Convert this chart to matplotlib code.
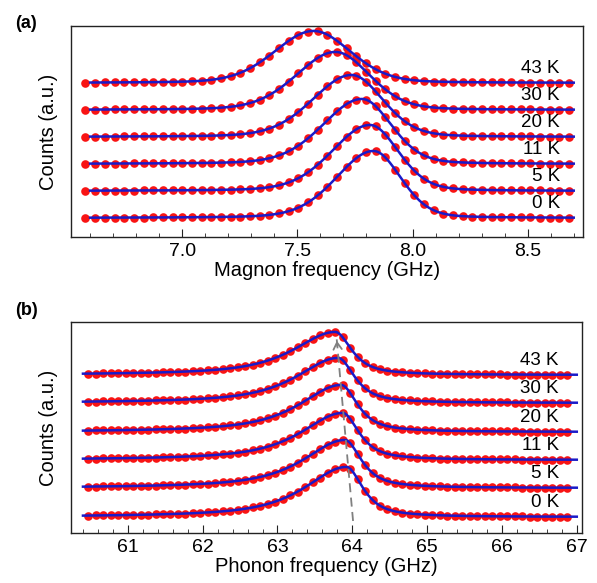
import numpy as np
import matplotlib
matplotlib.use("Agg")
import matplotlib.pyplot as plt

plt.rcParams['font.family'] = ['Liberation Sans', 'DejaVu Sans']

temps = ["0 K", "5 K", "11 K", "20 K", "30 K", "43 K"]

# Panel (a): magnon peaks
mag_offsets = [19, 46, 73, 100, 127, 154]
mag_heights = [67, 66, 65, 62, 58, 52]
mag_centers = [7.83, 7.815, 7.78, 7.735, 7.665, 7.57]
mag_wl = [0.19, 0.195, 0.20, 0.20, 0.20, 0.20]
mag_wr = [0.14, 0.145, 0.15, 0.16, 0.175, 0.19]
mag_eta = 0.2
mag_points = (6.58, 8.68, 51)
mag_fit = (6.60, 8.70)

# Panel (b): phonon peaks
ph_offsets = [16, 45, 73, 101, 130, 158]
ph_heights = [50, 48, 47, 47, 45, 43]
ph_centers = [63.92, 63.90, 63.87, 63.85, 63.81, 63.77]
ph_wl = [0.66, 0.66, 0.66, 0.66, 0.66, 0.66]
ph_wr = [0.26, 0.26, 0.26, 0.26, 0.26, 0.26]
ph_eta = 0.8
ph_points = (60.47, 66.87, 65)
ph_fit = (60.40, 67.00)

arrow_x = [64.01, 63.79]
arrow_y = [12, 195]


def peak(x, c, h, wl, wr, eta):
    w = np.where(x < c, wl, wr)
    u = (x - c) / w
    return h * (eta / (1 + u ** 2) + (1 - eta) * np.exp(-np.log(2) * u ** 2))


fig = plt.figure(figsize=(5.97, 5.83), dpi=100)
axa = fig.add_axes([0.1189, 0.5935, 0.8576, 0.362])
axb = fig.add_axes([0.1189, 0.0858, 0.8560, 0.362])

red = '#f81414'
blue = '#1a1ac8'


def draw(ax, offsets, heights, centers, wl, wr, eta, pts, fit, lab_x):
    xp = np.linspace(*pts)
    xf = np.linspace(fit[0], fit[1], 600)
    for i in range(len(temps)):
        yp = offsets[i] + peak(xp, centers[i], heights[i], wl[i], wr[i], eta)
        yf = offsets[i] + peak(xf, centers[i], heights[i], wl[i], wr[i], eta)
        ax.plot(xp, yp, 'o', color=red, ms=6.2, mec='none', zorder=2)
        ax.plot(xf, yf, '-', color=blue, lw=1.8, zorder=3)
        ax.text(lab_x, offsets[i] + 6, temps[i], ha='right', va='bottom',
                fontsize=13.5, zorder=4)
    ax.set_ylim(0, 211)
    ax.set_yticks([])
    ax.set_ylabel('Counts (a.u.)', fontsize=14.5, labelpad=9)
    for s in ax.spines.values():
        s.set_linewidth(1.0)
        s.set_color('#222222')
    ax.tick_params(axis='x', which='both', direction='in', labelsize=14,
                   top=False, pad=4, color='#222222')
    ax.tick_params(axis='x', which='major', length=6)
    ax.tick_params(axis='x', which='minor', length=3)


draw(axa, mag_offsets, mag_heights, mag_centers, mag_wl, mag_wr, mag_eta,
     mag_points, mag_fit, 8.64)
axa.set_xlim(6.517, 8.74)
axa.set_xticks([7.0, 7.5, 8.0, 8.5])
axa.set_xticklabels(['7.0', '7.5', '8.0', '8.5'])
axa.set_xticks(np.arange(6.6, 8.75, 0.1), minor=True)
axa.set_xlabel('Magnon frequency (GHz)', fontsize=14.5, labelpad=1)

draw(axb, ph_offsets, ph_heights, ph_centers, ph_wl, ph_wr, ph_eta,
     ph_points, ph_fit, 66.76)
axb.set_xlim(60.24, 67.07)
axb.set_xticks([61, 62, 63, 64, 65, 66, 67])
axb.set_xticks(np.arange(60.4, 67.01, 0.2), minor=True)
axb.set_xlabel('Phonon frequency (GHz)', fontsize=14.5, labelpad=1)

gray = '#808080'
axb.plot(arrow_x, arrow_y, '--', color=gray, lw=1.3, dashes=(5, 3), zorder=5)
dx = arrow_x[1] - arrow_x[0]
dy = arrow_y[1] - arrow_y[0]
axb.annotate('', xy=(arrow_x[1], arrow_y[1]),
             xytext=(arrow_x[1] - dx * 0.06, arrow_y[1] - dy * 0.06),
             arrowprops=dict(arrowstyle='->,head_length=0.5,head_width=0.3',
                             color=gray, lw=1.3), zorder=5)

fig.text(0.025, 0.975, '(a)', fontsize=13, fontweight='bold', va='top')
fig.text(0.025, 0.482, '(b)', fontsize=13, fontweight='bold', va='top')

fig.savefig('out.png', dpi=100)
